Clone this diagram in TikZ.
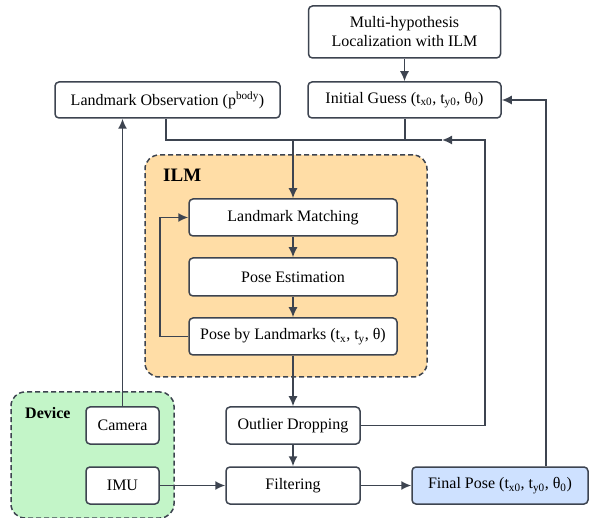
\documentclass[tikz,border=0pt]{standalone}
\usepackage{fontspec}
\setmainfont{Liberation Serif}
\usetikzlibrary{arrows.meta}
\definecolor{ln}{HTML}{3D4450}
\definecolor{ilmfill}{HTML}{FFDDA6}
\definecolor{devfill}{HTML}{C3F5C8}
\definecolor{finfill}{HTML}{CEE1FF}
\tikzset{
  box/.style={draw=ln, line width=1.5pt, rounded corners=4pt, fill=white, inner sep=0pt, align=center,
    font=\fontsize{16}{19}\selectfont},
  group/.style={draw=ln, line width=1.5pt, dashed, dash pattern=on 5pt off 3pt, rounded corners=14pt},
  conn/.style={draw=ln, line width=1.6pt},
  arr/.style={conn, -{Latex[length=10pt,width=9pt]}},
  glabel/.style={font=\bfseries, anchor=west, inner sep=0pt}
}
\begin{document}
\begin{tikzpicture}[x=1pt,y=-1pt]
\useasboundingbox (0,0) rectangle (589,518);
% containers
\node[group, fill=ilmfill, minimum width=282pt, minimum height=222pt, inner sep=0pt] (ilm) at (286,266) {};
\node[glabel, font=\fontsize{19}{22}\selectfont\bfseries] (ilml) at (163,175) {ILM};
\node[group, fill=devfill, minimum width=163pt, minimum height=126pt, inner sep=0pt] (dev) at (92.5,455) {};
\node[glabel, font=\fontsize{16}{19}\selectfont\bfseries] (devl) at (25,413) {Device};
% boxes
\node[box, minimum width=192pt, minimum height=52pt] (multi) at (404.5,32) {Multi-hypothesis\\Localization with ILM};
\node[box, minimum width=193pt, minimum height=36pt] (ig) at (404.5,100) {Initial Guess (t\textsubscript{x0}, t\textsubscript{y0}, θ\textsubscript{0})};
\node[box, minimum width=225pt, minimum height=36pt] (lo) at (167.5,100) {Landmark Observation (p\textsuperscript{body})};
\node[box, minimum width=208pt, minimum height=37pt] (lm) at (293,217.5) {Landmark Matching};
\node[box, minimum width=208pt, minimum height=38pt] (pe) at (293,277) {Pose Estimation};
\node[box, minimum width=208pt, minimum height=37pt] (pbl) at (293,336.5) {Pose by Landmarks (t\textsubscript{x}, t\textsubscript{y}, θ)};
\node[box, minimum width=73pt, minimum height=37pt] (cam) at (122.5,425.5) {Camera};
\node[box, minimum width=73pt, minimum height=37pt] (imu) at (122.5,485.5) {IMU};
\node[box, minimum width=134pt, minimum height=37pt] (out) at (293,425.5) {Outlier Dropping};
\node[box, minimum width=134pt, minimum height=37pt] (filt) at (293,485.5) {Filtering};
\node[box, fill=finfill, minimum width=176pt, minimum height=37pt] (fin) at (500,485.5) {Final Pose (t\textsubscript{x0}, t\textsubscript{y0}, θ\textsubscript{0})};
% junction coordinates
\coordinate (jl) at (166,140);
\coordinate (jr) at (405,140);
\coordinate (jm) at (293,140);
\coordinate (jo) at (485,140);
\coordinate (jtip) at (442,140);
% connectors
\draw[arr] (multi.south) -- (ig.north);
\draw[conn] (lo.south -| jl) -- (jl) -- (jr) -- (ig.south -| jr);
\draw[arr] (jm) -- (lm.north);
\draw[arr] (out.east) -| (jo) -- (jtip);
\draw[conn] (jtip) -- (jr);
\draw[arr] (lm) -- (pe);
\draw[arr] (pe) -- (pbl);
\draw[arr] (pbl.west) -- (160,336.5) |- (lm.west);
\draw[arr] (pbl) -- (out);
\draw[arr] (out) -- (filt);
\draw[arr] (cam.north) -- (lo.south -| cam.north);
\draw[arr] (imu) -- (filt);
\draw[arr] (filt) -- (fin);
\draw[arr] (fin.north -| 546,0) |- (ig.east);
\end{tikzpicture}
\end{document}
